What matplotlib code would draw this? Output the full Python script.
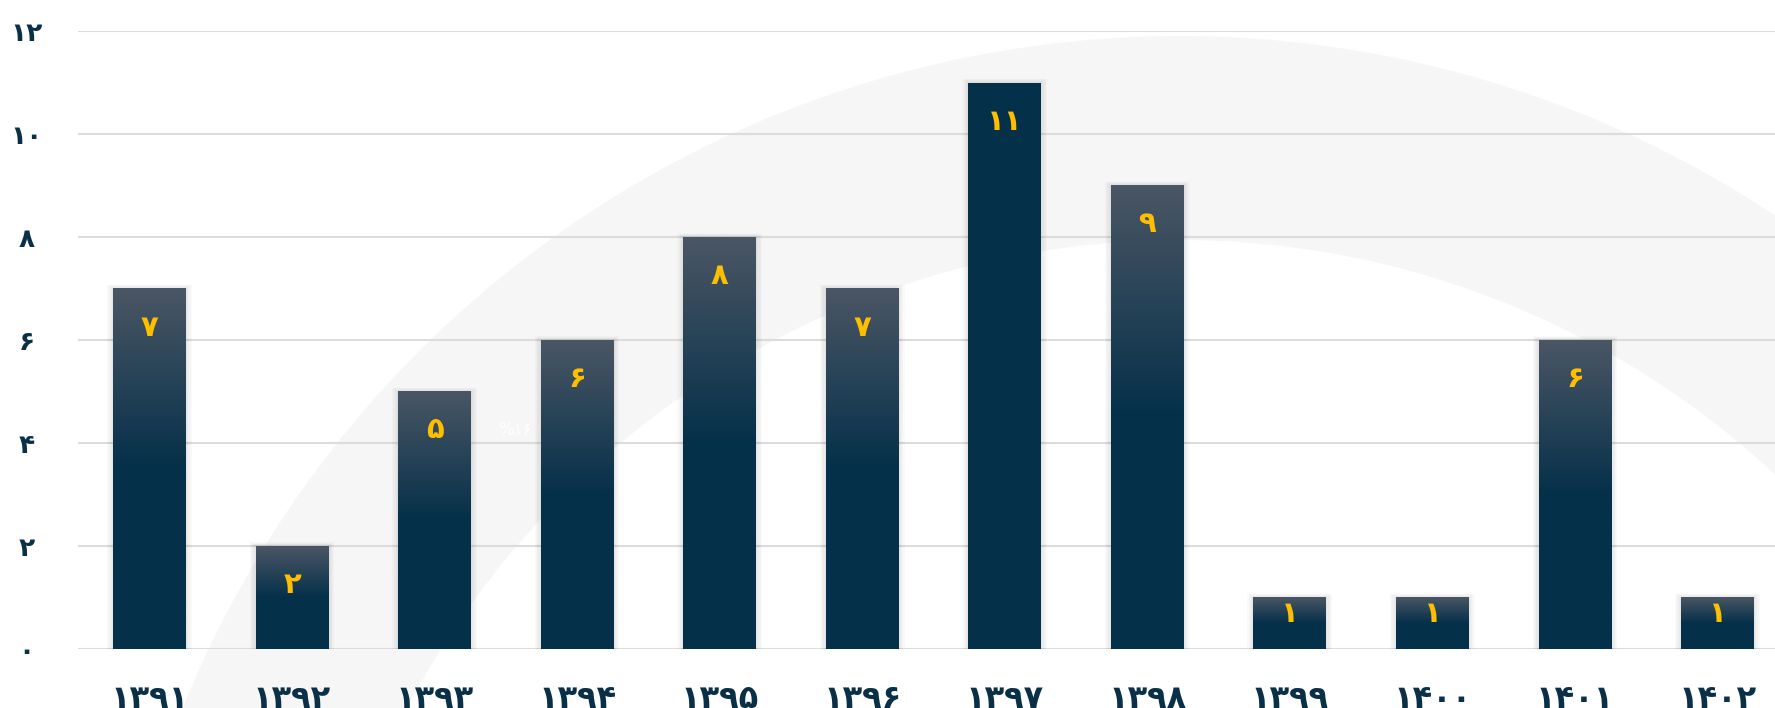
import matplotlib
matplotlib.use('Agg')
import matplotlib.pyplot as plt
from matplotlib.patches import Wedge, Rectangle
from matplotlib.colors import LinearSegmentedColormap
import numpy as np

plt.rcParams['font.family'] = ['DejaVu Sans']

fa = str.maketrans('0123456789', '۰۱۲۳۴۵۶۷۸۹')

years = ['۱۳۹۱', '۱۳۹۲', '۱۳۹۳', '۱۳۹۴', '۱۳۹۵', '۱۳۹۶',
         '۱۳۹۷', '۱۳۹۸', '۱۳۹۹', '۱۴۰۰', '۱۴۰۱', '۱۴۰۲']
values = [7, 2, 5, 6, 8, 7, 11, 9, 1, 1, 6, 1]
yticks = [0, 2, 4, 6, 8, 10, 12]
highlight = 6  # 1397 bar drawn flat dark

dark = '#05304a'
top = '#4a5664'
gold = '#FFBF00'
navy = '#0a3048'

W, H = 1775, 708
fig = plt.figure(figsize=(W / 100, H / 100), dpi=100)
fig.patch.set_facecolor('white')

# background arc, in pixel coordinates
bg = fig.add_axes([0, 0, 1, 1], zorder=0)
bg.set_xlim(0, W)
bg.set_ylim(H, 0)
bg.axis('off')
bg.add_patch(Wedge((1180, 1112), 1076, 0, 360, width=204,
                   facecolor='#f6f6f6', edgecolor='none'))
bg.text(515, 430, '%' + '16'.translate(fa), color='white', fontsize=12,
        ha='center', va='center', alpha=0.9)

left, bottom_px, top_px = 78, 649, 31
ax = fig.add_axes([left / W, (H - bottom_px) / H, 1 - left / W,
                   (bottom_px - top_px) / H], zorder=1)
ax.patch.set_alpha(0)

x = np.arange(len(years))
bw = 0.51
px_x = 142.5
px_y = (bottom_px - top_px) / 12.0

grad = np.linspace(0, 1, 200).reshape(-1, 1)
grad = np.clip(grad * 2, 0, 1)  # top half fades, bottom half solid
cmap = LinearSegmentedColormap.from_list('bar', [top, dark])

for i, v in enumerate(values):
    x0 = x[i] - bw / 2
    # soft shadow
    for k in range(1, 6):
        dx = 1.2 * k / px_x
        dy = 0.8 * k / px_y
        ax.add_patch(Rectangle((x0 - dx, 0), bw + 2 * dx, v + dy,
                               facecolor='black', alpha=0.018,
                               edgecolor='none', zorder=2))
    if i == highlight:
        ax.add_patch(Rectangle((x0, 0), bw, v, facecolor=dark,
                               edgecolor='none', zorder=3))
    else:
        ax.imshow(grad, extent=(x0, x0 + bw, 0, v), aspect='auto',
                  cmap=cmap, vmin=0, vmax=1, zorder=3, interpolation='bilinear')
    off = -24 if v * px_y < 74 else -47
    ax.annotate(str(v).translate(fa), (x[i], v), xytext=(0, off * 0.72),
                textcoords='offset points', ha='center', va='baseline',
                color=gold, fontsize=21, fontweight='bold', zorder=4)

ax.set_xlim(-0.502, 11.404)
ax.set_ylim(0, 12)
ax.set_yticks(yticks)
ax.set_yticklabels([str(t).translate(fa) for t in yticks],
                   fontsize=19, fontweight='bold', color=navy, ha='center')
ax.set_xticks(x)
ax.set_xticklabels(years, fontsize=23, fontweight='bold', color=navy)
ax.tick_params(axis='y', length=0, pad=37)
ax.tick_params(axis='x', length=0, pad=25)
ax.grid(axis='y', color='#dcdcdc', linewidth=1.5, zorder=1)
ax.set_axisbelow(True)
for s in ax.spines.values():
    s.set_visible(False)

fig.savefig('out.png', dpi=100)
